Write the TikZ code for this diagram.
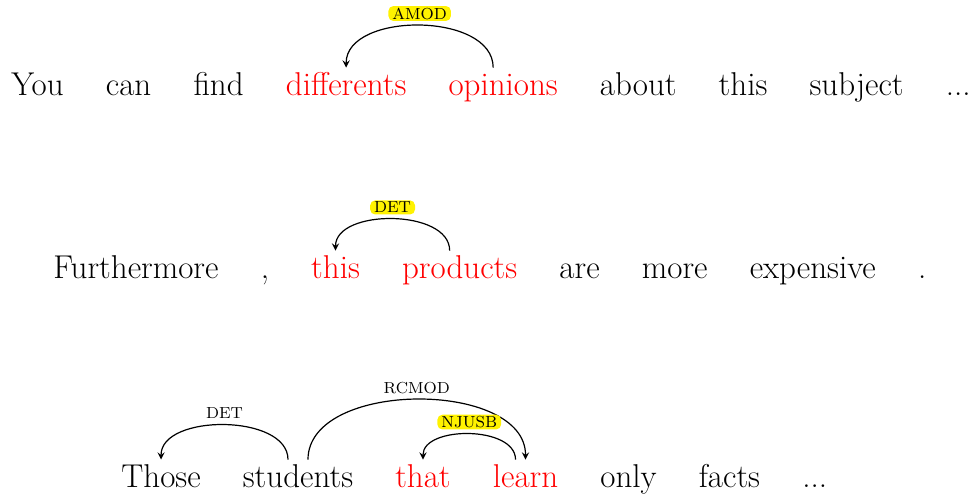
\documentclass[tikz,border=0pt]{standalone}
\usetikzlibrary{positioning}
\begin{document}
\begin{tikzpicture}[x=0.5pt,y=0.5pt,
  word/.style={font=\fontsize{16.5}{20}\selectfont,inner xsep=0pt,inner ysep=2pt,
    text height=12pt,text depth=3pt},
  hw/.style={word,text=red},
  dep/.style={-stealth,line width=0.6pt},
  deplabel/.style={midway,above=2pt,font=\fontsize{8}{9}\selectfont,
    inner xsep=2pt,inner ysep=0.8pt},
  hilite/.style={fill=yellow,rounded corners=2.5pt}]
  \useasboundingbox (0,0) rectangle (971,497);
  % Each sentence sits on one baseline; the arcs run from head to dependent.
  \node[word,anchor=base west] (you) at (11,401) {You};
  \node[word,base right=20.7pt of you] (can) {can};
  \node[word,base right=20.7pt of can] (find) {find};
  \node[hw,base right=20.7pt of find] (differents) {differents};
  \node[hw,base right=20.7pt of differents] (opinions) {opinions};
  \node[word,base right=20.7pt of opinions] (about) {about};
  \node[word,base right=20.7pt of about] (thisA) {this};
  \node[word,base right=20.7pt of thisA] (subject) {subject};
  \node[word,base right=20.7pt of subject] (dotsA) {...};

  \draw[dep] ([xshift=-5pt]opinions.north) .. controls +(0,28pt) and +(0,28pt) .. (differents.north)
    node[deplabel,hilite] {AMOD};

  \node[word,anchor=base west] (furthermore) at (53,218) {Furthermore};
  \node[word,base right=20.7pt of furthermore] (comma) {,};
  \node[hw,base right=20.7pt of comma] (thisB) {this};
  \node[hw,base right=20.7pt of thisB] (products) {products};
  \node[word,base right=20.7pt of products] (are) {are};
  \node[word,base right=20.7pt of are] (more) {more};
  \node[word,base right=20.7pt of more] (expensive) {expensive};
  \node[word,base right=20.7pt of expensive] (period) {.};

  \draw[dep] ([xshift=-5pt]products.north) .. controls +(0,21pt) and +(0,21pt) .. (thisB.north)
    node[deplabel,hilite] {DET};

  \node[word,anchor=base west] (those) at (121,9) {Those};
  \node[word,base right=20.7pt of those] (students) {students};
  \node[hw,base right=20.7pt of students] (that) {that};
  \node[hw,base right=20.7pt of that] (learn) {learn};
  \node[word,base right=20.7pt of learn] (only) {only};
  \node[word,base right=20.7pt of only] (facts) {facts};
  \node[word,base right=20.7pt of facts] (dotsC) {...};

  \draw[dep] ([xshift=-5pt]students.north) .. controls +(0,23pt) and +(0,23pt) .. (those.north)
    node[deplabel] {DET};
  \draw[dep] ([xshift=5pt]students.north) .. controls +(0,40pt) and +(0,40pt) .. (learn.north)
    node[deplabel] {RCMOD};
  \draw[dep] ([xshift=-5pt]learn.north) .. controls +(0,17pt) and +(0,17pt) .. (that.north)
    node[deplabel,hilite] {NJUSB};
\end{tikzpicture}
\end{document}
